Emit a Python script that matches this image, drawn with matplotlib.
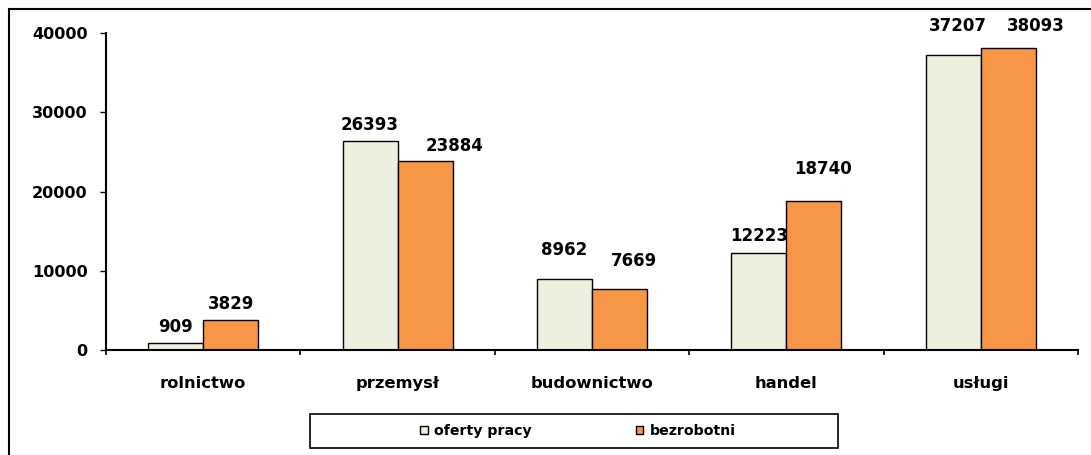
import numpy as np
import matplotlib.pyplot as plt
from matplotlib.patches import Rectangle

categories = ['rolnictwo', 'przemysł', 'budownictwo', 'handel', 'usługi']
oferty = [909, 26393, 8962, 12223, 37207]
bezrobotni = [3829, 23884, 7669, 18740, 38093]

# label offsets from bar top centre (pixels), as placed in the original
off_oferty = [(0, 16), (0, 16), (0, 29), (0, 17), (5, 29)]
off_bezrobotni = [(0, 16), (29, 15), (14, 28), (9, 32), (28, 22)]

plt.rcParams['font.family'] = 'DejaVu Sans'
plt.rcParams['font.weight'] = 'bold'

fig = plt.figure(figsize=(10.91, 4.55), dpi=100)
ax = fig.add_axes([106/1091, 1 - 350/455, 972/1091, 317/455])

x = np.arange(len(categories))
w = 0.283
b1 = ax.bar(x - w/2, oferty, w, color='#EBF1DE', edgecolor='black', linewidth=1, label='oferty pracy')
b2 = ax.bar(x + w/2, bezrobotni, w, color='#F79646', edgecolor='black', linewidth=1, label='bezrobotni')

for bars, vals, offs in [(b1, oferty, off_oferty), (b2, bezrobotni, off_bezrobotni)]:
    for r, v, (dx, dy) in zip(bars, vals, offs):
        ax.annotate(str(v), (r.get_x() + r.get_width()/2, v), xytext=(dx * 0.72, dy * 0.72),
                    textcoords='offset points', ha='center', va='center',
                    fontsize=12, fontweight='bold', annotation_clip=False)

ax.set_xlim(-0.5, len(categories) - 0.5)
ax.set_ylim(0, 40000)
ax.set_yticks([0, 10000, 20000, 30000, 40000])
ax.set_xticks(x)
ax.set_xticklabels(categories, fontsize=11.8)
ax.set_xticks(np.arange(-0.5, len(categories)), minor=True)
ax.tick_params(axis='x', which='major', length=0, pad=19)
ax.tick_params(axis='x', which='minor', length=3.5, direction='out', width=1.2)
ax.tick_params(axis='y', length=4.3, direction='out', width=1.0, pad=9, labelsize=11.6)
ax.spines['top'].set_visible(False)
ax.spines['right'].set_visible(False)
ax.spines['left'].set_linewidth(1.5)
ax.spines['bottom'].set_linewidth(1.5)

# legend with its own box
fig.patches.append(Rectangle((310/1091, 1 - 448/455), 528/1091, 34/455, transform=fig.transFigure,
                             fill=False, edgecolor='black', linewidth=1.2))
fig.legend(handles=[b1, b2], loc='center', bbox_to_anchor=(578/1091, 1 - 431/455), ncol=2,
           frameon=False, handlelength=0.55, handleheight=0.55, handletextpad=0.45,
           columnspacing=7.3, prop={'weight': 'bold', 'size': 10.2})

# outer frame
fig.patches.append(Rectangle((9/1091, -0.1), 1.2, 1.1 - 9/455, transform=fig.transFigure,
                             fill=False, edgecolor='black', linewidth=1.5))

fig.savefig('out.png', dpi=100)
